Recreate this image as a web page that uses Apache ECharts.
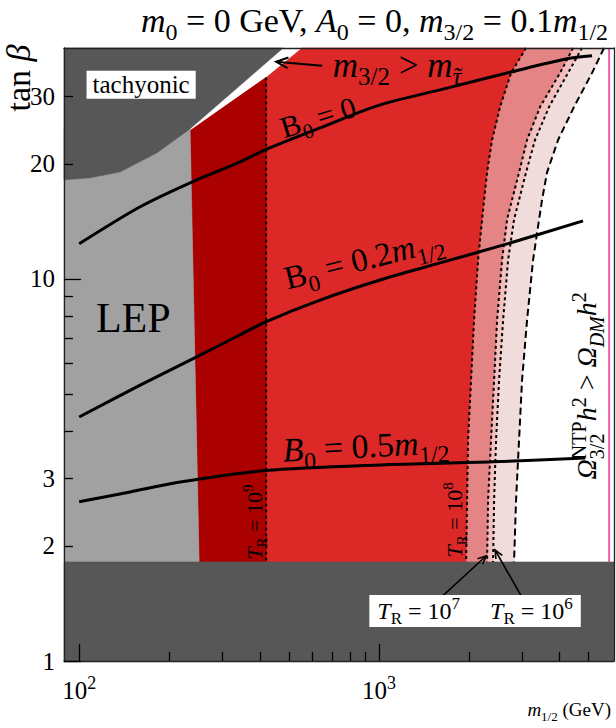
<!DOCTYPE html>
<html>
<head>
<meta charset="utf-8">
<script src="https://cdn.jsdelivr.net/npm/echarts@6.0.0/dist/echarts.min.js"></script>
<style>html,body{margin:0;padding:0;background:#fff}#chart{width:616px;height:728px}</style>
</head>
<body>
<div id="chart"></div>
<script>
// ---------------- data ----------------
const X_MIN = 89, X_MAX = 6070, Y_MIN = 1, Y_MAX = 40.2;

const xMajorTicks = [100, 1000];
const xMinorTicks = [200, 300, 400, 500, 600, 700, 800, 900, 2000, 3000, 4000, 5000];
const xLabelValues = [100, 1000];
const yMajorTicks = [1, 10];
const yMinorTicks = [2, 3, 4, 5, 6, 7, 8, 9, 20, 30];
const yLabelValues = [1, 2, 3, 10, 20, 30];

// excluded low tan(beta) band
const lowBandTop = 1.816;

// tachyonic region boundary (m1/2, tan beta)
const tachyM = [89, 108.8, 137, 181.6, 234.4, 478.6];
const tachyT = [18.16, 18.39, 19.06, 21.37, 24.70, 40.2];

// left red edge (LEP limit) and m3/2 > m_stau edge
const redEdgeM = [251.2, 234.4, 423.3, 553.8];
const redEdgeT = [1.816, 24.41, 33.80, 40.2];

// T_R = 1e9 contour
const tr9M = [420, 420];
const tr9T = [33.65, 1.816];

// contours sampled at common tan beta values
const contourT = [40.2, 34.6, 28.2, 23.1, 19.0, 16.1, 14.3, 11.2, 7.8, 5.44, 3.8, 2.64, 1.816];
const tr8M   = [3090, 2754, 2532, 2380, 2291, 2239, 2205, 2138, 2073, 2026, 1980, 1965, 1950];
const tr7M   = [4433, 4012, 3442, 3114, 2929, 2775, 2671, 2570, 2474, 2418, 2362, 2309, 2291];
const tr6M   = [4750, 4266, 3687, 3311, 3090, 2929, 2818, 2692, 2591, 2512, 2455, 2418, 2399];
const omegaM = [5623, 5129, 4467, 3951, 3631, 3494, 3415, 3261, 3114, 2997, 2929, 2862, 2818];

// NTP over-closure limit
const ntpLimitM = 5846;

// B0 lines
const b0ZeroM = [100, 159.7, 234.4, 344.1, 416.9, 635.8, 1007.7, 1597, 2775, 4232, 5129];
const b0ZeroT = [12.35, 15.44, 17.84, 20.24, 21.77, 24.85, 28.54, 31.24, 34.83, 37.66, 38.36];
const b0TwoM  = [100, 159.7, 243.6, 344.1, 416.9, 635.8, 1007.7, 1597, 2671, 4786];
const b0TwoT  = [4.35, 5.27, 6.22, 7.14, 7.71, 8.80, 9.93, 11.01, 12.35, 14.18];
const b0FiveM = [100, 147.9, 217.1, 416.9, 1007.7, 2399, 4861];
const b0FiveT = [2.61, 2.77, 2.94, 3.15, 3.26, 3.32, 3.40];

// ---------------- helpers ----------------
const SERIF = '"Liberation Serif", "Times New Roman", serif';
const zip = (ms, ts) => ms.map((m, i) => [m, ts[i]]);
const rev = a => a.slice().reverse();

const A = zip(tr8M, contourT), B = zip(tr7M, contourT), C = zip(tr6M, contourT), D = zip(omegaM, contourT);
const tachy = zip(tachyM, tachyT);
const redEdge = zip(redEdgeM, redEdgeT);
const tr9 = zip(tr9M, tr9T);

function zrRich(F, lhf) {
  const f = Math.round(F * 0.7);
  const LH = Math.round(F * (lhf || 1.6));
  const tok = (size, italic, shift, extra) => Object.assign({
    fontSize: size, fontFamily: SERIF, fontStyle: italic ? 'italic' : 'normal', fontWeight: 'normal',
    font: (italic ? 'italic ' : '') + size + 'px ' + SERIF,
    fill: '#000', verticalAlign: 'top', align: 'left', lineHeight: LH,
    padding: [Math.max(0, Math.round(F + shift - 0.84 * size)), 0, 0, 0]
  }, extra || {});
  return {
    r: tok(F, false, 0), i: tok(F, true, 0),
    sb: tok(f, false, 0.24 * F), sbi: tok(f, true, 0.24 * F),
    sp: tok(f, false, -0.40 * F),
    sbz: tok(f, false, 0.24 * F, { width: 0 }),
    tl: tok(f, true, 0.24 * F, { width: 0 })
  };
}
function ecRich(F, lhf) {
  const z = zrRich(F, lhf), out = {};
  Object.keys(z).forEach(k => {
    const t = z[k];
    out[k] = { fontSize: t.fontSize, fontFamily: SERIF, fontStyle: t.fontStyle, fontWeight: 'normal', color: '#000',
      verticalAlign: 'top', align: 'left', lineHeight: t.lineHeight, padding: t.padding };
  });
  return out;
}

function areaSeries(pts, fill) {
  return { type: 'custom', coordinateSystem: 'cartesian2d', silent: true, z: 2,
    data: [[pts[0][0], pts[0][1]]],
    renderItem: (p, api) => ({ type: 'polygon',
      shape: { points: pts.map(q => api.coord(q)) },
      style: { fill: fill, stroke: fill, lineWidth: 0.6 } }) };
}
function lineSeries(pts, style, smooth) {
  return { type: 'custom', coordinateSystem: 'cartesian2d', silent: true, z: 3,
    data: [[pts[0][0], pts[0][1]]],
    renderItem: (p, api) => ({ type: 'polyline',
      shape: { points: pts.map(q => api.coord(q)), smooth: smooth || 0 },
      style: Object.assign({ fill: null, stroke: '#000', lineWidth: 2 }, style) }) };
}

// ---------------- annotations ----------------
const annotations = [
  { at: [160.9, 32.2], rot: 0, plain: 'tachyonic', font: '25px ' + SERIF, bg: '#fff', pad: [2, 6, 1, 6] },
  { at: [151.4, 7.91], rot: 0, plain: 'LEP', font: '42px ' + SERIF },
  { at: [631, 25.92], rot: 17, F: 30, text: '{r|B}{sb|0}{r| = 0}' },
  { at: [898, 10.95], rot: 14, F: 33, text: '{r|B}{sb|0}{r| = 0.2}{i|m}{sb|1/2}' },
  { at: [905, 3.546], rot: 3, F: 34, text: '{i|B}{sb|0}{r| = 0.5}{i|m}{sb|1/2}' },
  { at: [1148, 35.25], rot: 0, F: 35, text: '{i|m}{sb|3/2}{r| > }{i|m}{tl|˜}{sbi|τ}' },
  { at: [392, 2.31], rot: 90, F: 22, text: '{i|T}{sb|R}{r| = 10}{sp|9}' },
  { at: [1820, 2.34], rot: 90, F: 22, text: '{i|T}{sb|R}{r| = 10}{sp|8}' },
  { at: [5090, 5.25], rot: 90, F: 28, text: '{i|Ω}{sbz|3/2}{sp|NTP}{i|h}{sp|2}{r| > }{i|Ω}{sbi|DM}{i|h}{sp|2}' },
  { at: [2089, 1.352], rot: 0, F: 24, lhf: 1.34, bg: '#fff', pad: [0, 8, 0, 8],
    text: '{i|T}{sb|R}{r| = 10}{sp|7}{r|     }{i|T}{sb|R}{r| = 10}{sp|6}' }
];
const arrows = [
  { from: [645.7, 36.1], to: [453.7, 36.99], head: 13, lw: 2 },
  { from: [1537, 1.419], to: [2274, 1.883], head: 9, lw: 1.6 },
  { from: [3138, 1.376], to: [2436, 1.952], head: 9, lw: 1.6 }
];

const series = [
  areaSeries(C.concat(rev(D)), '#f1dcdc'),
  areaSeries(B.concat(rev(C)), '#f3bfbf'),
  areaSeries(A.concat(rev(B)), '#e48484'),
  areaSeries(redEdge.concat(A), '#dd2828'),
  areaSeries([redEdge[0], redEdge[1], tr9[0], tr9[1]], '#aa0000'),
  areaSeries([[X_MIN, lowBandTop], redEdge[0], redEdge[1], [tachyM[4], tachyT[4]], [X_MIN, tachyT[4]]], '#a1a1a1'),
  areaSeries(tachy.concat([[X_MIN, Y_MAX]]), '#575757'),
  areaSeries([[X_MIN, Y_MIN], [X_MAX, Y_MIN], [X_MAX, lowBandTop], [X_MIN, lowBandTop]], '#575757'),
  lineSeries([[ntpLimitM, lowBandTop], [ntpLimitM, Y_MAX]], { stroke: '#ee5fb4', lineWidth: 2 }),
  lineSeries(tr9, { lineDash: [3, 3], lineWidth: 2 }),
  lineSeries(A, { lineDash: [3, 3], lineWidth: 2 }),
  lineSeries(B, { lineDash: [3, 3], lineWidth: 2 }),
  lineSeries(C, { lineDash: [3, 3], lineWidth: 2 }),
  lineSeries(D, { lineDash: [7, 4], lineWidth: 2 }),
  lineSeries(zip(b0ZeroM, b0ZeroT), { lineWidth: 3 }, 0.3),
  lineSeries(zip(b0TwoM, b0TwoT), { lineWidth: 3 }, 0.3),
  lineSeries(zip(b0FiveM, b0FiveT), { lineWidth: 3 }, 0.3),
  { type: 'custom', coordinateSystem: 'cartesian2d', silent: true, z: 5,
    data: arrows.map((a, i) => [a.to[0], a.to[1], i]),
    renderItem: (p, api) => {
      const a = arrows[api.value(2)];
      const p0 = api.coord(a.from), p1 = api.coord(a.to);
      const ang = Math.atan2(p1[1] - p0[1], p1[0] - p0[0]), w = 0.42, h = a.head;
      const l = [p1[0] - h * Math.cos(ang - w), p1[1] - h * Math.sin(ang - w)];
      const r = [p1[0] - h * Math.cos(ang + w), p1[1] - h * Math.sin(ang + w)];
      return { type: 'group', children: [
        { type: 'line', shape: { x1: p0[0], y1: p0[1], x2: p1[0], y2: p1[1] }, style: { stroke: '#000', lineWidth: a.lw } },
        { type: 'polyline', shape: { points: [l, p1, r] }, style: { stroke: '#000', lineWidth: a.lw, fill: null } }
      ] };
    } },
  { type: 'custom', coordinateSystem: 'cartesian2d', silent: true, z: 6,
    data: annotations.map((a, i) => [a.at[0], a.at[1], i]),
    renderItem: (p, api) => {
      const a = annotations[api.value(2)];
      const pt = api.coord(a.at);
      const style = a.plain
        ? { text: a.plain, font: a.font, fill: '#000', align: 'center', verticalAlign: 'middle' }
        : { text: a.text, rich: zrRich(a.F, a.lhf), fill: '#000', align: 'center', verticalAlign: 'middle',
            font: a.F + 'px ' + SERIF };
      if (a.bg) { style.backgroundColor = a.bg; style.padding = a.pad; }
      return { type: 'text', x: pt[0], y: pt[1], rotation: a.rot * Math.PI / 180, style: style };
    } }
];

const axisCommon = { type: 'log', logBase: 10, min: X_MIN, max: X_MAX, gridIndex: 0, z: 20,
  splitLine: { show: false }, minorTick: { show: false } };
const frameLine = { show: true, lineStyle: { color: '#222', width: 1.3 } };
const tickStyle = { color: '#000', width: 1.3 };

const option = {
  animation: false,
  backgroundColor: '#fff',
  title: {
    text: '{i|m}{sb|0}{r| = 0 GeV, }{i|A}{sb|0}{r| = 0, }{i|m}{sb|3/2}{r| = 0.1}{i|m}{sb|1/2}',
    left: 141, top: -2, padding: 0,
    textStyle: { fontWeight: 'normal', fontFamily: SERIF, fontSize: 34, rich: ecRich(34, 1.3) }
  },
  grid: { left: 64, right: 2, top: 48, bottom: 67, show: false },
  xAxis: [
    Object.assign({}, axisCommon, { position: 'bottom', axisLine: frameLine,
      axisTick: { show: true, inside: true, length: 17, customValues: xMajorTicks, lineStyle: tickStyle },
      axisLabel: { show: true, customValues: xLabelValues, margin: 13,
        formatter: v => '{r|10}{sp|' + Math.round(Math.log10(v)) + '}', rich: ecRich(25, 1.5) } }),
    Object.assign({}, axisCommon, { position: 'bottom', axisLine: { show: false },
      axisTick: { show: true, inside: true, length: 9, customValues: xMinorTicks, lineStyle: tickStyle },
      axisLabel: { show: false } }),
    Object.assign({}, axisCommon, { position: 'top', axisLine: frameLine, axisTick: { show: false }, axisLabel: { show: false } })
  ],
  yAxis: [
    Object.assign({}, axisCommon, { min: Y_MIN, max: Y_MAX, position: 'left', axisLine: frameLine,
      axisTick: { show: true, inside: true, length: 17, customValues: yMajorTicks, lineStyle: tickStyle },
      axisLabel: { show: true, customValues: yLabelValues, margin: 9, color: '#000', fontSize: 25, fontFamily: SERIF } }),
    Object.assign({}, axisCommon, { min: Y_MIN, max: Y_MAX, position: 'left', axisLine: { show: false },
      axisTick: { show: true, inside: true, length: 9, customValues: yMinorTicks, lineStyle: tickStyle },
      axisLabel: { show: false } }),
    Object.assign({}, axisCommon, { min: Y_MIN, max: Y_MAX, position: 'right', axisLine: frameLine, axisTick: { show: false }, axisLabel: { show: false } })
  ],
  graphic: [
    { type: 'text', x: 20, y: 78, rotation: Math.PI / 2, z: 50,
      style: { text: '{r|tan }{i|β}', rich: zrRich(34, 1.4), align: 'center', verticalAlign: 'middle', font: '34px ' + SERIF, fill: '#000' } },
    { type: 'text', x: 611, y: 711, z: 50,
      style: { text: '{i|m}{sb|1/2}{r| (GeV)}', rich: zrRich(19, 1.5), align: 'right', verticalAlign: 'middle', font: '19px ' + SERIF, fill: '#000' } }
  ],
  series: series
};

const chart = echarts.init(document.getElementById('chart'), null, { renderer: 'svg', width: 616, height: 728 });
chart.setOption(option);
</script>
</body>
</html>
